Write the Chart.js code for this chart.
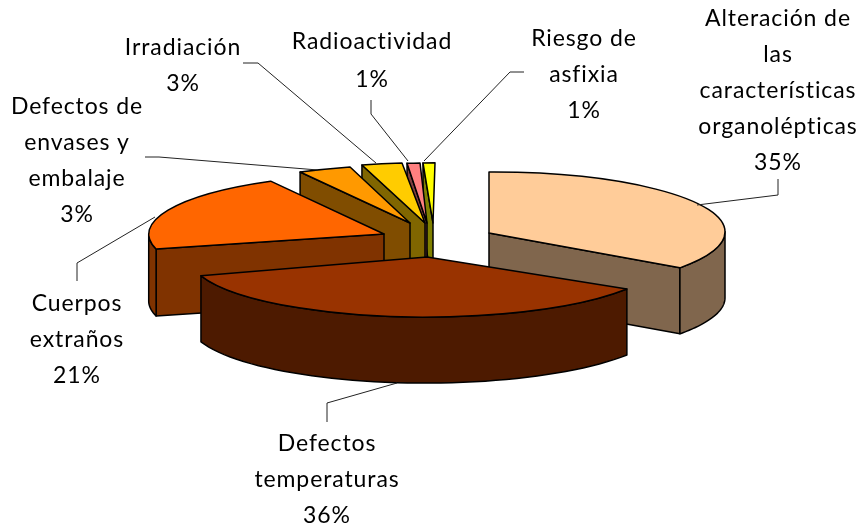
<!DOCTYPE html>
<html><head><meta charset="utf-8">
<style>html,body{margin:0;padding:0;background:#fff}#w{width:864px;height:526px;position:relative}</style>
<script src="https://cdn.jsdelivr.net/npm/chart.js@4"></script></head>
<body><div id="w"><canvas id="c" width="864" height="526"></canvas></div>
<script>
const categories = ['Alteración de las características organolépticas','Defectos temperaturas','Cuerpos extraños','Defectos de envases y embalaje','Irradiación','Radioactividad','Riesgo de asfixia'];
const values = [35,36,21,3,3,1,1];
const topColors = ['#FFCC99','#993300','#FF6600','#FF9900','#FFCC00','#FF8080','#FFFF00'];
const sideColors = ['#80664D','#4D1A00','#803300','#804D00','#806600','#804040','#808000'];
const labelLines = [
 ['Alteración de','las','características','organolépticas','35%'],
 ['Defectos','temperaturas','36%'],
 ['Cuerpos','extraños','21%'],
 ['Defectos de','envases y','embalaje','3%'],
 ['Irradiación','3%'],
 ['Radioactividad','1%'],
 ['Riesgo de','asfixia','1%']];
// layout: label centre x, first line mid y, line step
const labelPos = [[778,19,36],[327,444,36],[77,304,36],[77,107,36],[183,48,36],[372,42,38],[584,39,36]];
// leader lines: rim anchor, then elbow points
const leaders = [
 [[697,205],[778,195],[778,179]],
 [[397,383],[327,403],[327,422]],
 [[155,217],[77,263],[77,281]],
 [[318,170],[159,157],[145,157]],
 [[376,163],[258,63],[243,63]],
 [[408,161],[371,114],[371,100]],
 [[424,161],[510,72],[524,72]]];
const RAD=236;
// per-slice projection of the pie plane onto the page (perspective flattened per slice): a,b,c,d,e,f
const sliceForm = [
 [1.0,-0.005,0,0.258,489,233],
 [1.004,-0.017,0.059,0.254,427,257],
 [0.997,0,0,0.2555,384,234],
 [1.176,-0.0125,-0.115,0.2536,410,223],
 [0.92,0.011,-0.018,0.255,425,223],
 [0.876,0,-0.0254,0.255,427,223],
 [0.81,0,-0.0085,0.255,433,223]];
const sliceDepth=[66,66,67,66,66,66,66];
const drawOrder=[0,6,5,4,3,2,1];

function pt(m,a,r,dz){const u=Math.cos(a)*r,v=Math.sin(a)*r;return [m[0]*u+m[2]*v+m[4], m[1]*u+m[3]*v+m[5]+(dz||0)];}
function tracePoly(ctx,ps){ctx.beginPath();ps.forEach((p,i)=>i?ctx.lineTo(p[0],p[1]):ctx.moveTo(p[0],p[1]));ctx.closePath();}
function shade(ctx,ps,fill){tracePoly(ctx,ps);ctx.fillStyle=fill;ctx.fill();ctx.stroke();}

const pie3d={id:'pie3d',
 beforeDatasetDraw(chart,args){
  const ctx=chart.ctx, arcs=args.meta.data;
  ctx.save();
  ctx.lineWidth=1.5;ctx.strokeStyle='#000';ctx.lineJoin='round';
  drawOrder.forEach(i=>{
    const arc=arcs[i], m=sliceForm[i], D=sliceDepth[i], s=arc.startAngle, e=arc.endAngle, r=arc.outerRadius;
    const side=sideColors[i];
    const apex=pt(m,0,0,0), apexB=pt(m,0,0,D);
    if(Math.cos(s)<0) shade(ctx,[apex,pt(m,s,r),pt(m,s,r,D),apexB],side);
    if(Math.cos(e)>0) shade(ctx,[apex,pt(m,e,r),pt(m,e,r,D),apexB],side);
    const a0=Math.max(s,0), a1=Math.min(e,Math.PI);
    if(a1>a0){
      const top=[],bot=[];
      for(let k=0;k<=48;k++){const a=a0+(a1-a0)*k/48;top.push(pt(m,a,r));bot.unshift(pt(m,a,r,D));}
      shade(ctx,top.concat(bot),side);
    }
    // top face: the library's own arc element, drawn under the slice's projection
    ctx.save();
    ctx.transform(m[0],m[1],m[2],m[3],m[4],m[5]);
    ctx.translate(-arc.x,-arc.y);
    arc.draw(ctx);
    ctx.beginPath();ctx.moveTo(arc.x,arc.y);ctx.arc(arc.x,arc.y,r,s,e);ctx.closePath();
    ctx.restore();
    ctx.stroke();
  });
  ctx.restore();
  return false;
 },
 afterDraw(chart){
  const ctx=chart.ctx;
  ctx.save();
  ctx.lineWidth=1;ctx.strokeStyle='#222';
  leaders.forEach(l=>{ctx.beginPath();l.forEach((p,i)=>i?ctx.lineTo(p[0],p[1]):ctx.moveTo(p[0],p[1]));ctx.stroke();});
  ctx.fillStyle='#000';ctx.font='23px Lato';ctx.letterSpacing='0.9px';ctx.textAlign='center';ctx.textBaseline='middle';
  labelLines.forEach((ls,i)=>{const p=labelPos[i];ls.forEach((t,j)=>ctx.fillText(t,p[0],p[1]+j*p[2]));});
  ctx.restore();
 }};

new Chart(document.getElementById('c'),{
 type:'pie',
 data:{labels:categories,datasets:[{data:values,backgroundColor:topColors,borderWidth:0}]},
 options:{responsive:false,animation:false,radius:RAD,
  layout:{padding:0},
  plugins:{legend:{display:false},tooltip:{enabled:false}}},
 plugins:[pie3d]});
</script></body></html>
